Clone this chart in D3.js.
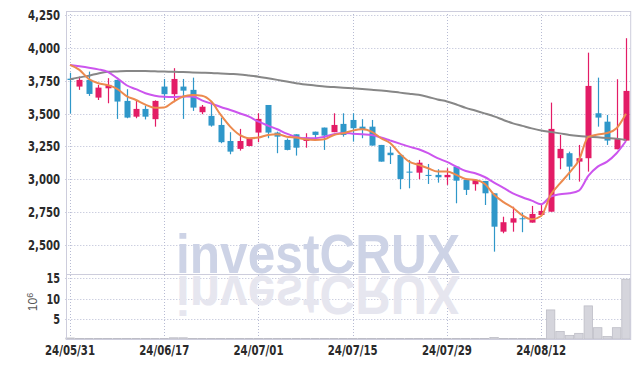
<!DOCTYPE html>
<html>
<head>
<meta charset="utf-8">
<script src="https://cdn.jsdelivr.net/npm/d3@7"></script>
<style>
  body { margin: 0; background: #fff; }
  svg { display: block; }
  .tick text { font-family: "Liberation Sans Narrow", "DejaVu Sans Condensed", sans-serif; font-size: 14px; font-weight: bold; fill: #2a2a2a; }
</style>
</head>
<body>
<svg id="chart" width="639" height="368"></svg>
<script>

// trading days (yy/mm/dd)
var dates = ["24/05/31",
  "24/06/03", "24/06/04", "24/06/05", "24/06/07",
  "24/06/10", "24/06/11", "24/06/12", "24/06/13", "24/06/14",
  "24/06/17", "24/06/18", "24/06/19", "24/06/20", "24/06/21",
  "24/06/24", "24/06/25", "24/06/26", "24/06/27", "24/06/28",
  "24/07/01", "24/07/02", "24/07/03", "24/07/04", "24/07/05",
  "24/07/08", "24/07/09", "24/07/10", "24/07/11", "24/07/12",
  "24/07/15", "24/07/16", "24/07/17", "24/07/18", "24/07/19",
  "24/07/22", "24/07/23", "24/07/24", "24/07/25", "24/07/26",
  "24/07/29", "24/07/30", "24/07/31", "24/08/01", "24/08/02",
  "24/08/05", "24/08/06", "24/08/07", "24/08/08", "24/08/09",
  "24/08/12", "24/08/13", "24/08/14", "24/08/16",
  "24/08/19", "24/08/20", "24/08/21", "24/08/22", "24/08/23",
  "24/08/26"];

var open = [3765, 3705, 3756, 3621, 3692, 3756, 3596, 3476, 3535, 3457,
  3705, 3647, 3705, 3680, 3510, 3482, 3413, 3291, 3231, 3253,
  3355, 3565, 3355, 3299, 3342, 3291, 3362, 3393, 3358, 3421,
  3451, 3400, 3400, 3261, 3202, 3185, 3058, 3050, 3033, 3033,
  3015, 3096, 2995, 2962, 2987, 2893, 2601, 2670, 2703, 2670,
  2728, 2753, 3160, 3198, 3134, 3160, 3502, 3438, 3228, 3294];
var high = [3810, 3781, 3819, 3718, 3769, 3756, 3685, 3603, 3560, 3600,
  3763, 3845, 3763, 3773, 3565, 3591, 3469, 3358, 3383, 3310,
  3502, 3565, 3362, 3310, 3342, 3350, 3362, 3393, 3502, 3502,
  3502, 3457, 3451, 3261, 3248, 3185, 3147, 3147, 3116, 3076,
  3084, 3096, 2995, 3000, 2987, 2893, 2715, 2791, 2746, 2797,
  2804, 3583, 3337, 3210, 3261, 3963, 3773, 3489, 3761, 4073];
var low = [3500, 3680, 3634, 3603, 3578, 3459, 3464, 3464, 3455, 3400,
  3603, 3586, 3459, 3520, 3495, 3400, 3274, 3190, 3218, 3250,
  3282, 3312, 3198, 3220, 3180, 3240, 3299, 3223, 3358, 3324,
  3286, 3312, 3256, 3134, 3116, 2924, 2931, 3000, 2964, 2974,
  2957, 2817, 2880, 2913, 2804, 2449, 2589, 2601, 2597, 2670,
  2728, 2753, 3076, 2995, 2982, 3058, 3400, 3261, 3228, 3294];
var close = [3755, 3756, 3649, 3697, 3718, 3591, 3469, 3535, 3476, 3596,
  3647, 3763, 3674, 3545, 3552, 3408, 3282, 3210, 3291, 3307,
  3459, 3355, 3324, 3223, 3240, 3317, 3337, 3332, 3413, 3337,
  3388, 3380, 3256, 3134, 3183, 3002, 3050, 3126, 3025, 3015,
  3033, 2989, 2919, 2995, 2893, 2639, 2673, 2703, 2698, 2736,
  2759, 3383, 3231, 3096, 3160, 3710, 3469, 3294, 3307, 3672];

// moving averages
var maShort = [3870, 3832, 3763, 3730, 3716, 3688, 3633, 3603, 3568, 3543,
  3546, 3591, 3629, 3641, 3636, 3591, 3489, 3400, 3337, 3312,
  3317, 3337, 3342, 3324, 3317, 3304, 3299, 3304, 3337, 3350,
  3370, 3380, 3362, 3312, 3274, 3195, 3134, 3109, 3084, 3058,
  3058, 3033, 3002, 2995, 2966, 2882, 2826, 2783, 2725, 2695,
  2720, 2880, 2968, 3050, 3145, 3322, 3340, 3352, 3388, 3498];
var maMid = [3870, 3860, 3849, 3836, 3817, 3769, 3715, 3685, 3654, 3636,
  3628, 3626, 3628, 3630, 3600, 3575, 3550, 3527, 3502, 3476,
  3438, 3408, 3380, 3347, 3322, 3312, 3312, 3324, 3342, 3352,
  3347, 3342, 3337, 3317, 3294, 3271, 3248, 3228, 3198, 3160,
  3132, 3096, 3063, 3046, 3017, 2974, 2934, 2893, 2863, 2837,
  2810, 2868, 2886, 2893, 2913, 3025, 3096, 3134, 3198, 3291];
var maLong = [3760, 3775, 3788, 3805, 3817, 3820, 3823, 3824, 3823, 3821,
  3819, 3818, 3815, 3813, 3811, 3809, 3805, 3801, 3797, 3789,
  3780, 3768, 3756, 3743, 3731, 3720, 3714, 3706, 3701, 3696,
  3692, 3687, 3681, 3675, 3668, 3659, 3651, 3642, 3626, 3607,
  3592, 3569, 3543, 3523, 3501, 3478, 3451, 3425, 3406, 3387,
  3371, 3360, 3349, 3337, 3329, 3324, 3319, 3314, 3309, 3299];

// volume, millions
var volume = [0.25, 0.1, 0.1, 0.1, 0.1, 0.1, 0.1, 0.1, 0.1, 0.1,
  0.1, 0.3, 0.3, 0.1, 0.1, 0.1, 0.1, 0.1, 0.1, 0.1,
  0.1, 0.1, 0.1, 0.1, 0.1, 0.1, 0.1, 0.1, 0.1, 0.1,
  0.1, 0.1, 0.1, 0.1, 0.1, 0.1, 0.1, 0.1, 0.1, 0.1,
  0.1, 0.1, 0.1, 0.1, 0.1, 0.35, 0.1, 0.1, 0.1, 0.1,
  0.1, 7.2, 1.85, 0.9, 1.4, 8.2, 2.8, 0.6, 2.8, 14.8];

var priceTicks = [2500, 2750, 3000, 3250, 3500, 3750, 4000, 4250];
var volumeTicks = [5, 10, 15];
var dateTicks = ["24/05/31", "24/06/17", "24/07/01", "24/07/15", "24/07/29", "24/08/12"];

function drawChart() {
  var svg = d3.select("#chart");
  var m = { left: 65.3, right: 630.7, top: 11, split: 274, bottom: 339 };

  var x = d3.scaleBand().domain(dates).range([m.left, m.right]).padding(0);
  var bw = x.bandwidth();
  function cx(d) { return x(d) + bw / 2; }

  var y = d3.scaleLinear().domain([2279, 4280]).range([m.split, m.top]);
  var yv = d3.scaleLinear().domain([0, 16.1]).range([m.bottom, m.split]);

  var upColor = "#e31c66", downColor = "#2f97c9";
  var gridColor = "#b7bbd3", frameColor = "#cdcddc";

  // grid
  var grid = svg.append("g").attr("stroke", gridColor).attr("stroke-dasharray", "1,2");
  grid.selectAll(".hp").data(priceTicks).enter().append("line")
    .attr("x1", m.left).attr("x2", m.right)
    .attr("y1", d => Math.round(y(d)) + 0.5).attr("y2", d => Math.round(y(d)) + 0.5);
  grid.selectAll(".hv").data(volumeTicks).enter().append("line")
    .attr("x1", m.left).attr("x2", m.right)
    .attr("y1", d => Math.round(yv(d)) + 0.5).attr("y2", d => Math.round(yv(d)) + 0.5);
  grid.selectAll(".vx").data(dateTicks).enter().append("line")
    .attr("x1", d => Math.round(cx(d)) + 0.5).attr("x2", d => Math.round(cx(d)) + 0.5)
    .attr("y1", m.top).attr("y2", m.bottom);

  // watermark with its reflection
  svg.append("clipPath").attr("id", "pricePane").append("rect")
    .attr("x", m.left).attr("y", m.top).attr("width", m.right - m.left).attr("height", m.split - m.top);
  svg.append("clipPath").attr("id", "volPane").append("rect")
    .attr("x", m.left).attr("y", m.split).attr("width", m.right - m.left).attr("height", m.bottom - m.split);

  svg.append("g").attr("clip-path", "url(#pricePane)")
    .append("text")
    .attr("x", 176).attr("y", 273)
    .attr("textLength", 284).attr("lengthAdjust", "spacingAndGlyphs")
    .style("font-family", "'Liberation Sans', Arial, sans-serif")
    .style("font-size", "56px").style("font-weight", "bold")
    .attr("fill", "#cdd3e6")
    .text("investCRUX");
  svg.append("g").attr("clip-path", "url(#volPane)")
    .append("text")
    .attr("transform", "translate(0," + (273 + 276) + ") scale(1,-1)")
    .attr("x", 176).attr("y", 273)
    .attr("textLength", 284).attr("lengthAdjust", "spacingAndGlyphs")
    .style("font-family", "'Liberation Sans', Arial, sans-serif")
    .style("font-size", "56px").style("font-weight", "bold")
    .attr("fill", "#e6e6ef")
    .text("investCRUX");

  // volume bars
  svg.append("g").selectAll("rect").data(dates).enter().append("rect")
    .attr("x", d => x(d) + 0.5)
    .attr("width", bw - 1)
    .attr("y", (d, i) => yv(volume[i]))
    .attr("height", (d, i) => m.bottom - yv(volume[i]))
    .attr("fill", "#d5d5dc")
    .attr("stroke", "#bdbdc6")
    .attr("stroke-width", 0.8);

  // candles
  var candle = svg.append("g").selectAll("g").data(dates).enter().append("g")
    .attr("fill", (d, i) => close[i] >= open[i] ? upColor : downColor)
    .attr("stroke", (d, i) => close[i] >= open[i] ? upColor : downColor);
  candle.append("line")
    .attr("x1", d => Math.round(cx(d)) + 0.5).attr("x2", d => Math.round(cx(d)) + 0.5)
    .attr("y1", (d, i) => y(high[i])).attr("y2", (d, i) => y(low[i]))
    .attr("stroke-width", 1.2);
  candle.append("rect")
    .attr("x", d => Math.round(cx(d)) + 0.5 - 3)
    .attr("width", 6)
    .attr("y", (d, i) => y(Math.max(open[i], close[i])))
    .attr("height", (d, i) => Math.max(1, Math.abs(y(open[i]) - y(close[i]))))
    .attr("stroke", "none");

  // moving averages
  var lines = svg.append("g").attr("clip-path", "url(#pricePane)").attr("fill", "none");
  [[maLong, "#878787"], [maMid, "#cc55ee"], [maShort, "#ec8a4e"]].forEach(function(s) {
    lines.append("path")
      .attr("d", d3.line().x((d, i) => cx(dates[i])).y(d => y(d)).curve(d3.curveMonotoneX)(s[0]))
      .attr("stroke", s[1]).attr("stroke-width", 2).attr("stroke-linejoin", "round");
  });

  // frame
  var frame = svg.append("g").attr("stroke", frameColor).attr("fill", "none");
  frame.append("rect").attr("x", 66.5).attr("y", m.top + 0.5)
    .attr("width", m.right - 66.5).attr("height", m.bottom - m.top);
  frame.append("line").attr("x1", 66.5).attr("x2", m.right)
    .attr("y1", m.split + 0.5).attr("y2", m.split + 0.5);

  // axes; labels squeezed to the narrow face of the original
  var yAxis = svg.append("g").attr("transform", "translate(66,0)")
    .call(d3.axisLeft(y).tickValues(priceTicks).tickSize(0).tickPadding(6).tickFormat(d3.format(",")));
  yAxis.select(".domain").remove();
  yAxis.selectAll("text").attr("textLength", 32).attr("lengthAdjust", "spacingAndGlyphs");

  var vAxis = svg.append("g").attr("transform", "translate(66,0)")
    .call(d3.axisLeft(yv).tickValues(volumeTicks).tickSize(0).tickPadding(6));
  vAxis.select(".domain").remove();
  vAxis.selectAll("text").attr("textLength", d => String(d).length * 6.8)
    .attr("lengthAdjust", "spacingAndGlyphs");

  var xAxis = svg.append("g").attr("transform", "translate(0," + m.bottom + ")")
    .call(d3.axisBottom(x).tickValues(dateTicks).tickSize(0));
  xAxis.select(".domain").remove();
  xAxis.selectAll("text").attr("y", 16).attr("dy", "0")
    .attr("textLength", 50).attr("lengthAdjust", "spacingAndGlyphs");

  // volume unit
  var unit = svg.append("text")
    .attr("transform", "translate(37,302) rotate(-90)")
    .attr("text-anchor", "middle")
    .style("font-family", "'Liberation Sans', Arial, sans-serif")
    .style("font-size", "12px").attr("fill", "#555");
  unit.append("tspan").text("10");
  unit.append("tspan").attr("dy", "-0.45em").style("font-size", "9px").text("6");
}

drawChart();

</script>
</body>
</html>
